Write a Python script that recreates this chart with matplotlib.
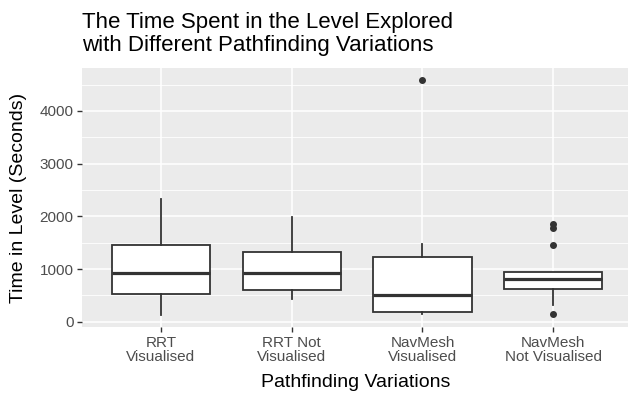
import matplotlib
matplotlib.use("Agg")
import matplotlib.pyplot as plt
from matplotlib.ticker import MultipleLocator

plt.rcParams['font.family'] = ['Liberation Sans', 'DejaVu Sans']

categories = ["RRT\nVisualised", "RRT Not\nVisualised", "NavMesh\nVisualised", "NavMesh\nNot Visualised"]
whislo = [127, 425, 143, 317]
q1 = [525, 596, 188, 626]
med = [918, 930, 507, 805]
q3 = [1450, 1329, 1234, 937]
whishi = [2323, 1993, 1475, 937]
fliers = [[], [], [4588], [1854, 1772, 1455, 146]]
yticks = [0, 1000, 2000, 3000, 4000]

W, H = 628, 395
fig = plt.figure(figsize=(W / 100, H / 100), dpi=100)
left, right, top, bottom = 82.4, 628, 68.2, 326.8
ax = fig.add_axes([left / W, 1 - bottom / H, (right - left) / W, (bottom - top) / H])
ax.set_facecolor('#EBEBEB')

stats = []
for i in range(len(categories)):
    stats.append(dict(med=med[i], q1=q1[i], q3=q3[i], whislo=whislo[i],
                      whishi=whishi[i], fliers=fliers[i], label=categories[i]))

edge = '#333333'
ax.bxp(stats, positions=range(1, len(categories) + 1), widths=0.75, patch_artist=True,
       showcaps=False, zorder=3,
       boxprops=dict(facecolor='white', edgecolor=edge, linewidth=1.3),
       whiskerprops=dict(color=edge, linewidth=1.3),
       medianprops=dict(color=edge, linewidth=2.3),
       flierprops=dict(marker='o', markerfacecolor=edge, markeredgecolor=edge,
                       markersize=4.0, linestyle='none'))

ax.set_xlim(0.4, 0.4 + (right - left) / 130.8)
ax.set_ylim(-96, 4811)
ax.set_yticks(yticks)
ax.set_yticklabels([str(v) for v in yticks])
ax.yaxis.set_minor_locator(MultipleLocator(500))
ax.set_xticks(range(1, len(categories) + 1))
ax.set_xticklabels(categories, linespacing=1.08)

ax.grid(which='major', color='white', linewidth=1.15, zorder=0)
ax.grid(which='minor', axis='y', color='white', linewidth=0.6, zorder=0)
ax.set_axisbelow(True)
for s in ax.spines.values():
    s.set_visible(False)

ax.tick_params(axis='both', which='major', length=3.5, width=1.0, color='#333333',
               labelcolor='#4D4D4D', labelsize=11, pad=2.8)
ax.tick_params(axis='both', which='minor', length=0)

fig.text(left / W, 1 - 12 / H, "The Time Spent in the Level Explored\nwith Different Pathfinding Variations",
         ha='left', va='top', fontsize=16, color='black', linespacing=1.1)
fig.text(356 / W, 1 - 387.3 / H, "Pathfinding Variations", ha='center', va='baseline',
         fontsize=14, color='black')
fig.text(18.5 / W, 1 - 197.5 / H, "Time in Level (Seconds)", ha='center', va='center',
         rotation=90, fontsize=14, color='black')

fig.savefig("out.png", dpi=100)
